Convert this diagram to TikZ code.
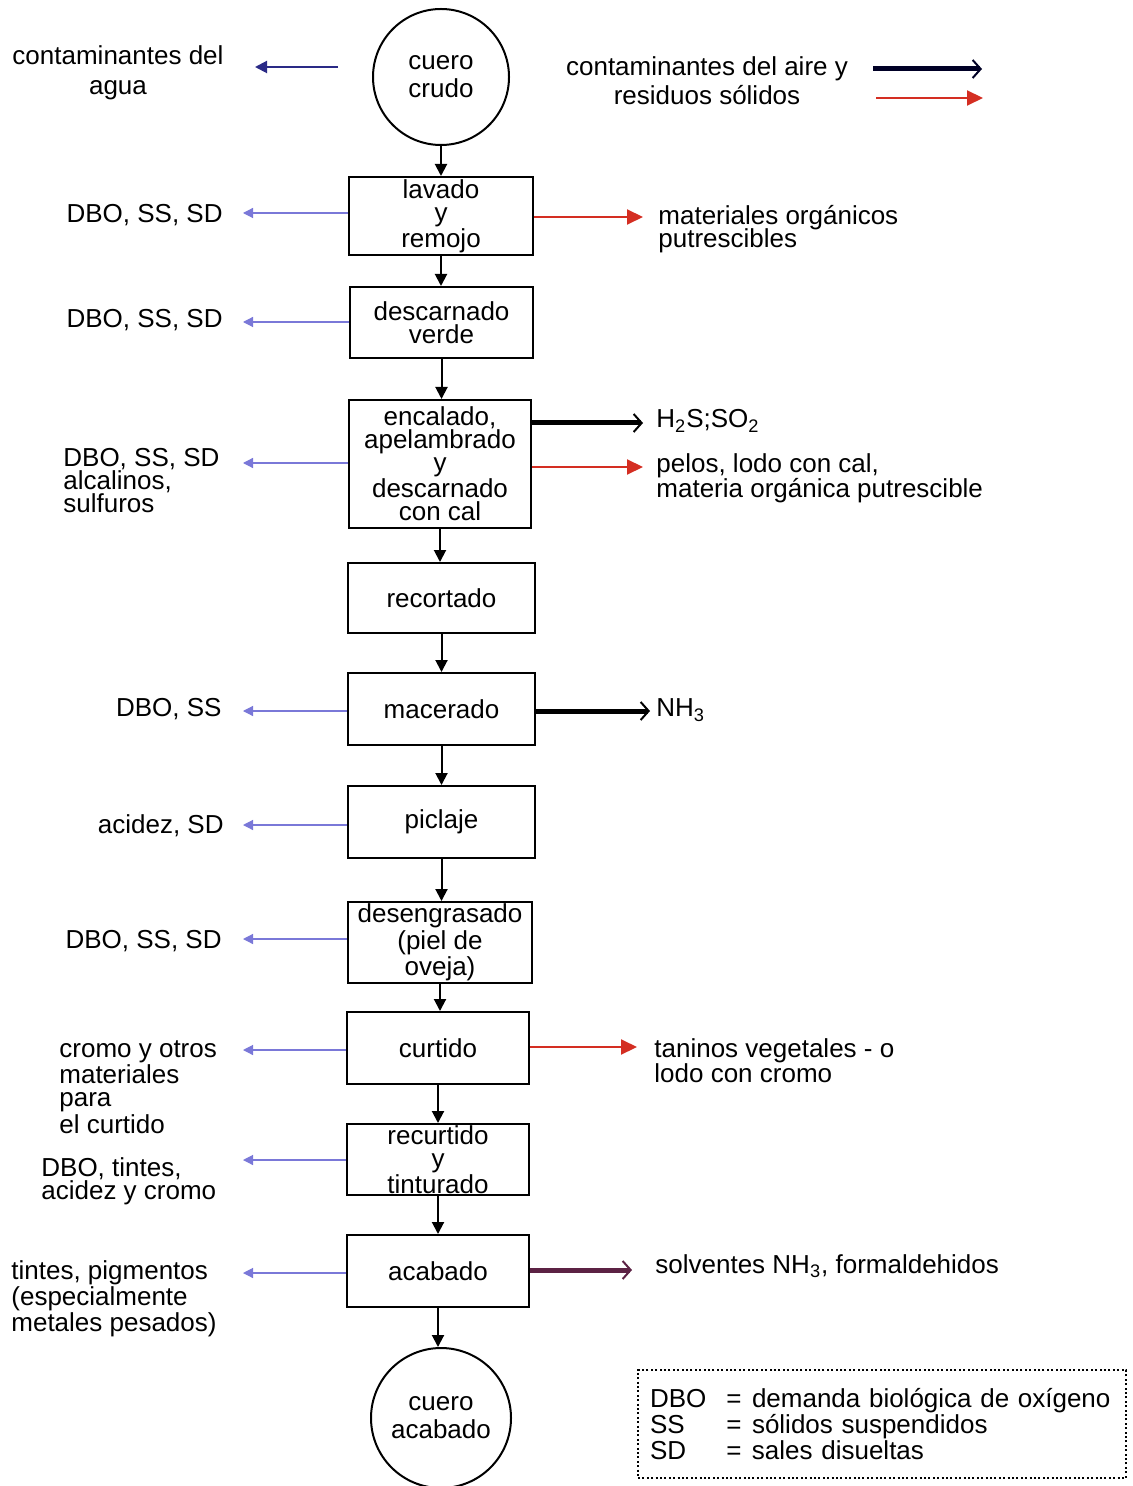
\documentclass[tikz,border=0pt]{standalone}
\usepackage{fontspec}
\setmainfont{Liberation Sans}
\usetikzlibrary{arrows.meta}
\definecolor{lilac}{HTML}{7A78D8}
\definecolor{navy}{HTML}{2A2A86}
\definecolor{arrred}{HTML}{D42E22}
\definecolor{plum}{HTML}{5C2244}
\begin{document}
\begin{tikzpicture}[x=0.5pt,y=-0.5pt,
  txt/.style={font=\fontsize{13}{11.5}\selectfont, inner sep=0pt},
  procbox/.style={draw, line width=1pt, txt, align=center},
  hide/.style={draw, circle, line width=1pt, txt, align=center},
  flowarr/.style={line width=1pt, -{Triangle[length=6pt,width=6pt]}},
  waterarr/.style={lilac, line width=0.6pt, -{Triangle[length=5pt,width=5pt]}},
  solidarr/.style={arrred, line width=1pt, -{Triangle[length=8pt,width=7.5pt]}},
  airarr/.style={line width=2.5pt, -{Straight Barb[length=4pt,width=9pt,line width=1pt]}}
]
\fill[white] (0,0) rectangle (1133,1486);
\useasboundingbox (0,0) rectangle (1133,1486);

% hides at the start and the end of the process
\node[hide, minimum size=68pt, font=\fontsize{13}{14}\selectfont] (raw) at (441,77) {cuero\\crudo};
\node[hide, minimum size=70pt, font=\fontsize{13}{14}\selectfont] (done) at (441,1418) {cuero\\acabado};

% process steps
\newcommand\stepnode[6]{\node[procbox, minimum width=#4*0.5pt, minimum height=#5*0.5pt] (#1) at (#2,#3) {#6};}
\stepnode{b1}{441}{216}{184}{78}{lavado\\y\\remojo}
\stepnode{b2}{441.5}{322.5}{183}{71}{descarnado\\verde}
\stepnode{b3}{440}{464}{182}{128}{encalado,\\apelambrado\\y\\descarnado\\con cal}
\stepnode{b4}{441.5}{598}{187}{70}{recortado}
\stepnode{b5}{441.5}{709}{187}{72}{macerado}
\stepnode{b6}{441.5}{822}{187}{72}{piclaje}
\stepnode{b7}{440}{942.5}{184}{81}{desengrasado\\(piel de\\oveja)}
\stepnode{b8}{438}{1048}{182}{72}{curtido}
\stepnode{b9}{438}{1159.5}{182}{71}{recurtido\\y\\tinturado}
\stepnode{b10}{438}{1271}{182}{72}{acabado}

% main flow
\draw[flowarr] (raw.south) -- (raw.south |- b1.north);
\draw[flowarr] (b1.south) -- (b1.south |- b2.north);
\draw[flowarr] (b2.south) -- (b2.south |- b3.north);
\draw[flowarr] (b3.south) -- (b3.south |- b4.north);
\draw[flowarr] (b4.south) -- (b4.south |- b5.north);
\draw[flowarr] (b5.south) -- (b5.south |- b6.north);
\draw[flowarr] (b6.south) -- (b6.south |- b7.north);
\draw[flowarr] (b7.south) -- (b7.south |- b8.north);
\draw[flowarr] (b8.south) -- (b8.south |- b9.north);
\draw[flowarr] (b9.south) -- (b9.south |- b10.north);
\draw[flowarr] (b10.south) -- (b10.south |- done.north);

% key at the top
\node[txt, align=center, font=\fontsize{13}{15}\selectfont] (kwater) at (118,73) {contaminantes del\\agua};
\node[txt, align=center, font=\fontsize{13}{14.5}\selectfont] (kair) at (707,81) {contaminantes del aire y\\residuos sólidos};
\coordinate (kw1) at (338,67); \coordinate (kw2) at (255,67);
\draw[navy, line width=1pt, -{Triangle[length=6pt,width=6pt]}] (kw1) -- (kw2);
\coordinate (ka1) at (873,69); \coordinate (ka2) at (982,69);
\draw[airarr, draw=black!85!blue] (ka1) -- (ka2);
\coordinate (ks1) at (876,98); \coordinate (ks2) at (983,98);
\draw[solidarr] (ks1) -- (ks2);

% water pollutants (left)
\node[txt, anchor=east] (w1) at (223,215) {DBO, SS, SD};
\node[txt, anchor=east] (w2) at (223,320) {DBO, SS, SD};
\node[txt, anchor=west, align=left] (w3) at (63,481) {DBO, SS, SD\\alcalinos,\\sulfuros};
\node[txt, anchor=east] (w5) at (222,709) {DBO, SS};
\node[txt, anchor=east] (w6) at (224,826) {acidez, SD};
\node[txt, anchor=east] (w7) at (222,941) {DBO, SS, SD};
\node[txt, anchor=west, align=left] (w8) at (59,1087) {cromo y otros\\materiales\\para\\el curtido};
\node[txt, anchor=west, align=left] (w9) at (41,1181) {DBO, tintes,\\acidez y cromo};
\node[txt, anchor=west, align=left] (w10) at (11,1299) {tintes, pigmentos\\(especialmente\\metales pesados)};

\coordinate (lw1) at (243,213);
\coordinate (lw2) at (243,322);
\coordinate (lw3) at (243,463);
\coordinate (lw5) at (243,711);
\coordinate (lw6) at (243,825);
\coordinate (lw7) at (243,939);
\coordinate (lw8) at (243,1050);
\coordinate (lw9) at (243,1160);
\coordinate (lw10) at (243,1273);
\draw[waterarr] (b1.west |- lw1) -- (lw1);
\draw[waterarr] (b2.west |- lw2) -- (lw2);
\draw[waterarr] (b3.west |- lw3) -- (lw3);
\draw[waterarr] (b5.west |- lw5) -- (lw5);
\draw[waterarr] (b6.west |- lw6) -- (lw6);
\draw[waterarr] (b7.west |- lw7) -- (lw7);
\draw[waterarr] (b8.west |- lw8) -- (lw8);
\draw[waterarr] (b9.west |- lw9) -- (lw9);
\draw[waterarr] (b10.west |- lw10) -- (lw10);

% air pollutants and solid wastes (right)
\node[txt, anchor=west, align=left] (s1) at (658,229) {materiales orgánicos\\[-1.5pt]putrescibles};
\node[txt, anchor=west] (a3) at (656,421) {H\textsubscript{2}S;SO\textsubscript{2}};
\node[txt, anchor=west, align=left, font=\fontsize{13}{12.5}\selectfont] (s3) at (656,478) {pelos, lodo con cal,\\materia orgánica putrescible};
\node[txt, anchor=west] (a5) at (656,710) {NH\textsubscript{3}};
\node[txt, anchor=west, align=left, font=\fontsize{13}{12.5}\selectfont] (s8) at (654,1061) {taninos vegetales - o\\lodo con cromo};
\node[txt, anchor=west] (a10) at (655,1266) {solventes NH\textsubscript{3}, formaldehidos};

\coordinate (rs1) at (643,217);
\coordinate (ra3) at (643,423);
\coordinate (rs3) at (643,467);
\coordinate (ra5) at (650,711);
\coordinate (rs8) at (637,1047);
\coordinate (ra10) at (632,1270);
\draw[solidarr] (b1.east |- rs1) -- (rs1);
\draw[airarr] (b3.east |- ra3) -- (ra3);
\draw[solidarr] (b3.east |- rs3) -- (rs3);
\draw[airarr] (b5.east |- ra5) -- (ra5);
\draw[solidarr] (b8.east |- rs8) -- (rs8);
\draw[airarr, draw=plum] (b10.east |- ra10) -- (ra10);

% abbreviations
\node[draw, line width=1pt, dash pattern=on 1pt off 1.2pt, minimum width=244pt, minimum height=54pt,
      txt, align=left, text width=232pt, font=\fontsize{13}{13}\selectfont] (legend) at (882,1424)
  {\makebox[38pt][l]{DBO}\makebox[8pt]{=}\hspace{5pt}demanda biológica de oxígeno\\
   \makebox[38pt][l]{SS}\makebox[8pt]{=}\hspace{5pt}sólidos suspendidos\\
   \makebox[38pt][l]{SD}\makebox[8pt]{=}\hspace{5pt}sales disueltas\\[2pt]};
\end{tikzpicture}
\end{document}
